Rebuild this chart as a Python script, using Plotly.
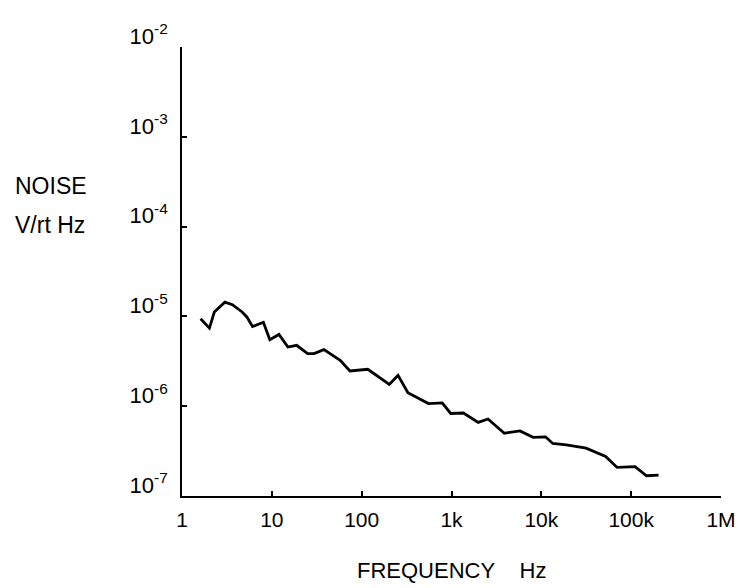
import plotly.graph_objects as go

freq_hz = [1.61, 2.02, 2.29, 3.0, 3.64, 4.67, 5.3, 6.1, 8.05, 9.5, 12.0, 15.1, 18.9, 25, 29.5, 38,
           57.7, 74, 117, 203, 254, 327, 554, 789, 980, 1358, 1983, 2549, 3872, 5792, 8100, 11140,
           13400, 19000, 31500, 52000, 69700, 110600, 148000, 202000]
noise_v = [9.4e-6, 7.4e-6, 1.12e-5, 1.44e-5, 1.35e-5, 1.12e-5, 9.8e-6, 7.7e-6, 8.6e-6, 5.5e-6,
           6.3e-6, 4.56e-6, 4.76e-6, 3.85e-6, 3.85e-6, 4.26e-6, 3.25e-6, 2.47e-6, 2.58e-6, 1.75e-6,
           2.21e-6, 1.41e-6, 1.07e-6, 1.09e-6, 8.3e-7, 8.4e-7, 6.6e-7, 7.2e-7, 5.0e-7, 5.3e-7,
           4.5e-7, 4.56e-7, 3.85e-7, 3.7e-7, 3.41e-7, 2.76e-7, 2.08e-7, 2.12e-7, 1.68e-7, 1.71e-7]

x_tickvals = [1, 10, 100, 1e3, 1e4, 1e5, 1e6]
x_ticktext = ["1", "10", "100", "1k", "10k", "100k", "1M"]
y_tickvals = [1e-7, 1e-6, 1e-5, 1e-4, 1e-3, 1e-2]
y_ticktext = ["10<sup>-7</sup>", "10<sup>-6</sup>", "10<sup>-5</sup>",
              "10<sup>-4</sup>", "10<sup>-3</sup>", "10<sup>-2</sup>"]

FONT = dict(family="Liberation Sans, Arial, sans-serif", size=21, color="black")

fig = go.Figure()
fig.add_trace(go.Scatter(x=freq_hz, y=noise_v, mode="lines",
                         line=dict(color="black", width=2.8), showlegend=False,
                         cliponaxis=False))

fig.update_layout(
    width=740, height=580,
    margin=dict(l=174, r=16, t=38, b=92),
    paper_bgcolor="white", plot_bgcolor="white",
    font=FONT,
    showlegend=False,
    xaxis=dict(type="log", range=[0, 6], tickvals=x_tickvals, ticktext=x_ticktext,
               showline=True, linecolor="black", linewidth=2, mirror=False,
               ticks="inside", ticklen=5, tickcolor="black", tickwidth=1.5,
               showgrid=False, zeroline=False, ticklabelstandoff=4,
               tickfont=dict(size=21)),
    yaxis=dict(type="log", range=[-7, -2], tickvals=y_tickvals, ticktext=y_ticktext,
               showline=True, linecolor="black", linewidth=1.8, mirror=False,
               ticks="inside", ticklen=5, tickcolor="black", tickwidth=1.5,
               showgrid=False, zeroline=False, ticklabelstandoff=8, ticklabelshift=-11,
               tickfont=dict(size=22)),
    annotations=[
        dict(text="NOISE", xref="paper", yref="paper", x=-174/550 + 2/550, y=(496-185)/450,
             xanchor="left", yanchor="middle", showarrow=False, font=dict(size=23)),
        dict(text="V/rt Hz", xref="paper", yref="paper", x=-174/550 + 2/550, y=(496-224)/450,
             xanchor="left", yanchor="middle", showarrow=False, font=dict(size=23)),
        dict(text="FREQUENCY&nbsp;&nbsp;&nbsp; Hz", xref="paper", yref="paper", x=(457-182)/550,
             y=(496-571)/450, xanchor="center", yanchor="middle", showarrow=False,
             font=dict(size=22)),
    ],
)

fig.write_html("out.html")
